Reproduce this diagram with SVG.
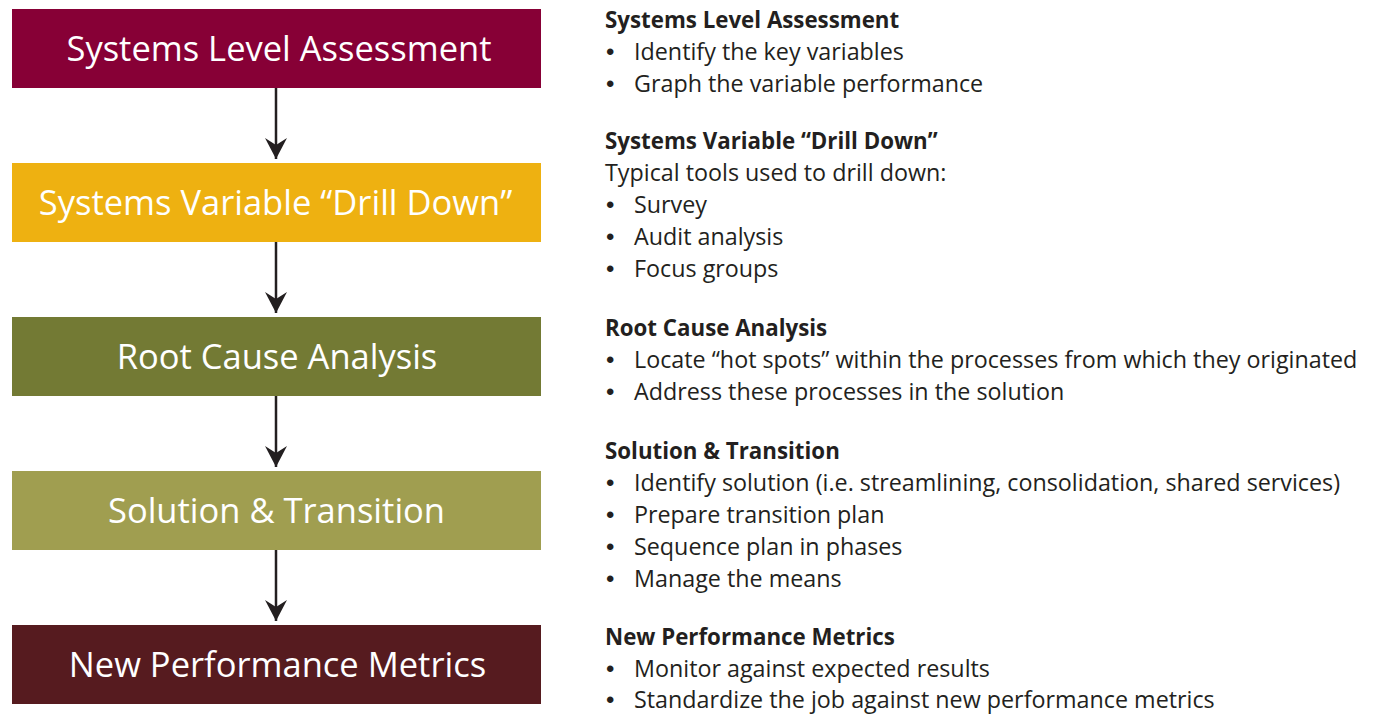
<svg xmlns="http://www.w3.org/2000/svg" width="1375" height="715" viewBox="0 0 1375 715">
<style>
.box-label{font-family:"Open Sans","Liberation Sans",sans-serif;font-size:34.5px;fill:#ffffff;text-anchor:middle}
.h{font-family:"Open Sans","Liberation Sans",sans-serif;font-size:22.3px;font-weight:bold;fill:#231f20}
.t{font-family:"Open Sans","Liberation Sans",sans-serif;font-size:23.3px;fill:#231f20}
.bl{font-family:"Liberation Sans",Arial,sans-serif;font-size:24px}
.conn{stroke:#231f20;stroke-width:2.5;fill:none}
</style>
<defs>
<marker id="ah" viewBox="-23 -12 24 24" refX="0" refY="0" markerWidth="24" markerHeight="24" markerUnits="userSpaceOnUse" orient="auto">
<path d="M0,0 L-21,-11 L-14,0 L-21,11 Z" fill="#231f20"/>
</marker>
</defs>
<rect width="1375" height="715" fill="#ffffff"/>
<g id="connectors">
<line class="conn" x1="276" y1="88" x2="276" y2="159" marker-end="url(#ah)"/>
<line class="conn" x1="276" y1="242" x2="276" y2="313" marker-end="url(#ah)"/>
<line class="conn" x1="276" y1="396" x2="276" y2="467" marker-end="url(#ah)"/>
<line class="conn" x1="276" y1="550" x2="276" y2="621" marker-end="url(#ah)"/>
</g>
<g id="node-1"><rect x="12" y="9" width="529" height="79" fill="#870036"/><text class="box-label" x="279" y="61">Systems Level Assessment</text></g>
<g id="node-2"><rect x="12" y="163" width="529" height="79" fill="#eeb111"/><text class="box-label" x="275.5" y="215">Systems Variable “Drill Down”</text></g>
<g id="node-3"><rect x="12" y="317" width="529" height="79" fill="#737a34"/><text class="box-label" x="277" y="369">Root Cause Analysis</text></g>
<g id="node-4"><rect x="12" y="471" width="529" height="79" fill="#a09e50"/><text class="box-label" x="276.5" y="523">Solution &amp; Transition</text></g>
<g id="node-5"><rect x="12" y="625" width="529" height="79" fill="#561b1f"/><text class="box-label" x="277.5" y="677">New Performance Metrics</text></g>
<g id="notes">
<text class="h" x="605" y="28">Systems Level Assessment</text>
<text class="t" x="606" y="60"><tspan class="bl">•</tspan><tspan x="634">Identify the key variables</tspan></text>
<text class="t" x="606" y="92"><tspan class="bl">•</tspan><tspan x="634">Graph the variable performance</tspan></text>
<text class="h" x="605" y="149">Systems Variable “Drill Down”</text>
<text class="t" x="605" y="181">Typical tools used to drill down:</text>
<text class="t" x="606" y="213"><tspan class="bl">•</tspan><tspan x="634">Survey</tspan></text>
<text class="t" x="606" y="245"><tspan class="bl">•</tspan><tspan x="634">Audit analysis</tspan></text>
<text class="t" x="606" y="277"><tspan class="bl">•</tspan><tspan x="634">Focus groups</tspan></text>
<text class="h" x="605" y="336">Root Cause Analysis</text>
<text class="t" x="606" y="368"><tspan class="bl">•</tspan><tspan x="634">Locate “hot spots” within the processes from which they originated</tspan></text>
<text class="t" x="606" y="400"><tspan class="bl">•</tspan><tspan x="634">Address these processes in the solution</tspan></text>
<text class="h" x="605" y="459">Solution &amp; Transition</text>
<text class="t" x="606" y="491"><tspan class="bl">•</tspan><tspan x="634">Identify solution (i.e. streamlining, consolidation, shared services)</tspan></text>
<text class="t" x="606" y="523"><tspan class="bl">•</tspan><tspan x="634">Prepare transition plan</tspan></text>
<text class="t" x="606" y="555"><tspan class="bl">•</tspan><tspan x="634">Sequence plan in phases</tspan></text>
<text class="t" x="606" y="587"><tspan class="bl">•</tspan><tspan x="634">Manage the means</tspan></text>
<text class="h" x="605" y="645">New Performance Metrics</text>
<text class="t" x="606" y="677"><tspan class="bl">•</tspan><tspan x="634">Monitor against expected results</tspan></text>
<text class="t" x="606" y="708"><tspan class="bl">•</tspan><tspan x="634">Standardize the job against new performance metrics</tspan></text>
</g>
</svg>
